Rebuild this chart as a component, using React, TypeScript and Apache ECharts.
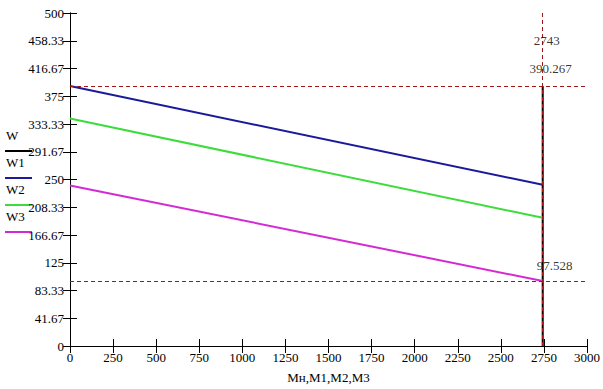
import React, { useEffect, useRef } from "react";
import * as echarts from "echarts";

const seriesNames = ["W", "W1", "W2", "W3"];
const seriesColors = ["#000000", "#1a1a9a", "#3ddc3d", "#d42ad4"];
const wPoints = [[2743, 0], [2743, 390.267]];
const w1Points = [[0, 390.267], [2743, 242]];
const w2Points = [[0, 341.5], [2743, 192.5]];
const w3Points = [[0, 241], [2743, 97.528]];
const xMarkers = [2743];
const yMarkers = [390.267, 97.528];
const xMin = 0, xMax = 3000, xStep = 250;
const yMin = 0, yMax = 500, yStep = 500 / 12;
const xAxisName = "Мн,М1,М2,М3";

const FONT = "Liberation Serif";
const FS = 13;
const markerColor = "#a01818";

export default function App() {
  const ref = useRef<HTMLDivElement>(null);
  useEffect(() => {
    if (!ref.current) return;
    const chart = echarts.init(ref.current, null, { renderer: "svg" });
    const fmtY = (v: number) => String(+v.toFixed(2));
    const fmtX = (v: number) => String(v);
    const axisLine = { show: true, lineStyle: { color: "#000", width: 1 } };
    const tick = { show: true, inside: true, length: 7, lineStyle: { color: "#000" } };
    const lineSeries = [wPoints, w1Points, w2Points, w3Points].map((d, i) => ({
      type: "line",
      name: seriesNames[i],
      data: d,
      symbol: "none",
      lineStyle: { color: seriesColors[i], width: 2 },
      z: 3,
    }));
    const markerSeries = {
      type: "line",
      name: "markers",
      data: [],
      symbol: "none",
      z: 5,
      markLine: {
        symbol: "none",
        silent: true,
        label: { show: false },
        lineStyle: { color: markerColor, type: [4, 3], width: 1 },
        data: [
          ...xMarkers.map((x) => ({ xAxis: x })),
          ...yMarkers.map((y) => ({ yAxis: y })),
        ],
      },
    };
    const labelSeries = {
      type: "scatter",
      name: "markerLabels",
      symbolSize: 0,
      z: 6,
      data: [
        { value: [xMarkers[0], yMax], label: { formatter: String(xMarkers[0]), position: "bottom", offset: [4, 16] } },
        { value: [xMarkers[0], yMarkers[0]], label: { formatter: String(yMarkers[0]), position: "top", offset: [8, -6] } },
        { value: [xMarkers[0], yMarkers[1]], label: { formatter: String(yMarkers[1]), position: "top", offset: [12, -4] } },
      ],
      label: { show: true, color: "#000", fontFamily: FONT, fontSize: FS },
    };
    const legendGraphics: any[] = [];
    seriesNames.forEach((n, i) => {
      legendGraphics.push({
        type: "text",
        left: 6,
        top: 129 + i * 27,
        style: { text: n, fill: "#000", font: `${FS}px "${FONT}"` },
      });
      legendGraphics.push({
        type: "line",
        shape: { x1: 5, y1: 151 + i * 27, x2: 32, y2: 151 + i * 27 },
        style: { stroke: seriesColors[i], lineWidth: 2 },
      });
    });
    chart.setOption({
      animation: false,
      backgroundColor: "#fff",
      textStyle: { fontFamily: FONT },
      grid: { left: 70, right: 16, top: 13, bottom: 39, containLabel: false },
      xAxis: [
        {
          type: "value", min: xMin, max: xMax, interval: xStep,
          axisLine, axisTick: tick, splitLine: { show: false },
          axisLabel: { color: "#000", fontFamily: FONT, fontSize: FS, margin: 5, formatter: fmtX },
          name: xAxisName, nameLocation: "middle", nameGap: 25,
          nameTextStyle: { color: "#000", fontFamily: FONT, fontSize: FS },
        },
        {
          type: "value", position: "top", min: xMin, max: xMax, interval: xStep,
          axisLine, axisTick: tick, axisLabel: { show: false }, splitLine: { show: false },
        },
      ],
      yAxis: [
        {
          type: "value", min: yMin, max: yMax, interval: yStep,
          axisLine, axisTick: tick, splitLine: { show: false },
          axisLabel: { color: "#000", fontFamily: FONT, fontSize: FS, margin: 6, formatter: fmtY },
        },
        {
          type: "value", position: "right", min: yMin, max: yMax, interval: yStep,
          axisLine, axisTick: tick, axisLabel: { show: false }, splitLine: { show: false },
        },
      ],
      series: [...lineSeries, markerSeries, labelSeries],
      graphic: legendGraphics,
    });
    return () => chart.dispose();
  }, []);
  return <div ref={ref} style={{ width: 603, height: 389, position: "absolute", left: 0, top: 0 }} />;
}
